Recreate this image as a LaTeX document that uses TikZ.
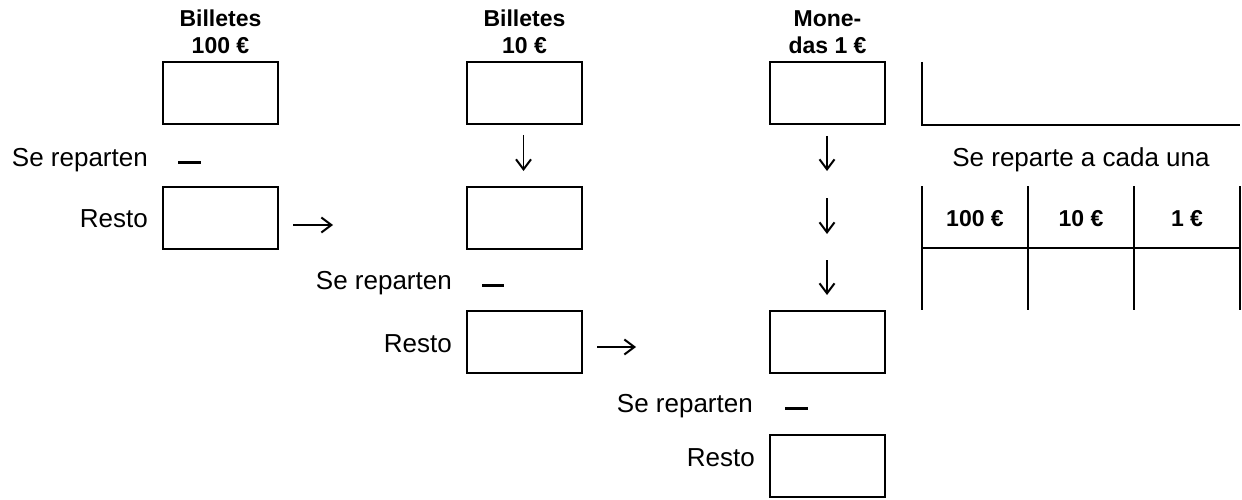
\documentclass[tikz,border=0pt]{standalone}
\usepackage{fontspec}
\setmainfont{Liberation Sans}
\usetikzlibrary{arrows.meta}
\begin{document}
\begin{tikzpicture}[x=1pt,y=-1pt,
  cell/.style={draw,line width=2pt,minimum width=115pt,minimum height=62pt,inner sep=0pt},
  lbl/.style={font=\fontsize{26}{30}\selectfont,inner sep=0pt},
  hdr/.style={font=\fontsize{23}{27}\selectfont\bfseries,inner sep=0pt,align=center},
  dashmark/.style={line width=3pt},
  arr/.style={line width=1.6pt,-{Straight Barb[length=10pt,width=15pt,line width=2pt]}},
  tline/.style={line width=2pt}]
\useasboundingbox (0,0) rectangle (1242,500);
% header texts
\node[hdr,anchor=base] (h1a) at (220.5,27) {Billetes};
\node[hdr,anchor=base] (h1b) at (220.5,54) {100 €};
\node[hdr,anchor=base] (h2a) at (524.5,27) {Billetes};
\node[hdr,anchor=base] (h2b) at (524.5,54) {10 €};
\node[hdr,anchor=base] (h3a) at (827.5,27) {Mone-};
\node[hdr,anchor=base] (h3b) at (827.5,54) {das 1 €};
% boxes
\node[cell] (b100) at (220.5,93.5) {};
\node[cell] (r100) at (220.5,218) {};
\node[cell] (b10) at (524.5,93.5) {};
\node[cell] (b10b) at (524.5,218) {};
\node[cell] (r10) at (524.5,342) {};
\node[cell] (b1) at (827.5,93.5) {};
\node[cell] (b1b) at (827.5,342) {};
\node[cell] (r1) at (827.5,465.5) {};
% labels
\node[lbl,anchor=base east] (sr1) at (148,166) {Se reparten};
\node[lbl,anchor=base east] (re1) at (148,227) {Resto};
\node[lbl,anchor=base east] (sr2) at (452,289) {Se reparten};
\node[lbl,anchor=base east] (re2) at (452,352) {Resto};
\node[lbl,anchor=base east] (sr3) at (753,412) {Se reparten};
\node[lbl,anchor=base east] (re3) at (755,466) {Resto};
% dashes
\draw[dashmark] (178,162) -- (201,162);
\draw[dashmark] (482,285) -- (504,285);
\draw[dashmark] (785,408) -- (808,408);
% arrows
\coordinate (a1s) at (293,225); \coordinate (a1e) at (333,225);
\coordinate (a2s) at (597,347); \coordinate (a2e) at (636,347);
\coordinate (d1s) at (523.5,135); \coordinate (d1e) at (523.5,171);
\coordinate (d2s) at (827,136); \coordinate (d2e) at (827,171);
\coordinate (d3s) at (827,198); \coordinate (d3e) at (827,234);
\coordinate (d4s) at (827,260); \coordinate (d4e) at (827,295);
\draw[arr] (a1s) -- (a1e);
\draw[arr] (a2s) -- (a2e);
\draw[arr] (d1s) -- (d1e);
\draw[arr] (d2s) -- (d2e);
\draw[arr] (d3s) -- (d3e);
\draw[arr] (d4s) -- (d4e);
% right part
\draw[tline] (922,62) -- (922,125) -- (1240,125);
\node[lbl,anchor=base] (sc) at (1081,166) {Se reparte a cada una};
\draw[tline] (922,186) -- (922,310);
\draw[tline] (1028,186) -- (1028,310);
\draw[tline] (1134,186) -- (1134,310);
\draw[tline] (1240,186) -- (1240,310);
\draw[tline] (922,248) -- (1240,248);
\node[hdr,anchor=base] (t1) at (975,226) {100 €};
\node[hdr,anchor=base] (t2) at (1081,226) {10 €};
\node[hdr,anchor=base] (t3) at (1187,226) {1 €};
\end{tikzpicture}
\end{document}
